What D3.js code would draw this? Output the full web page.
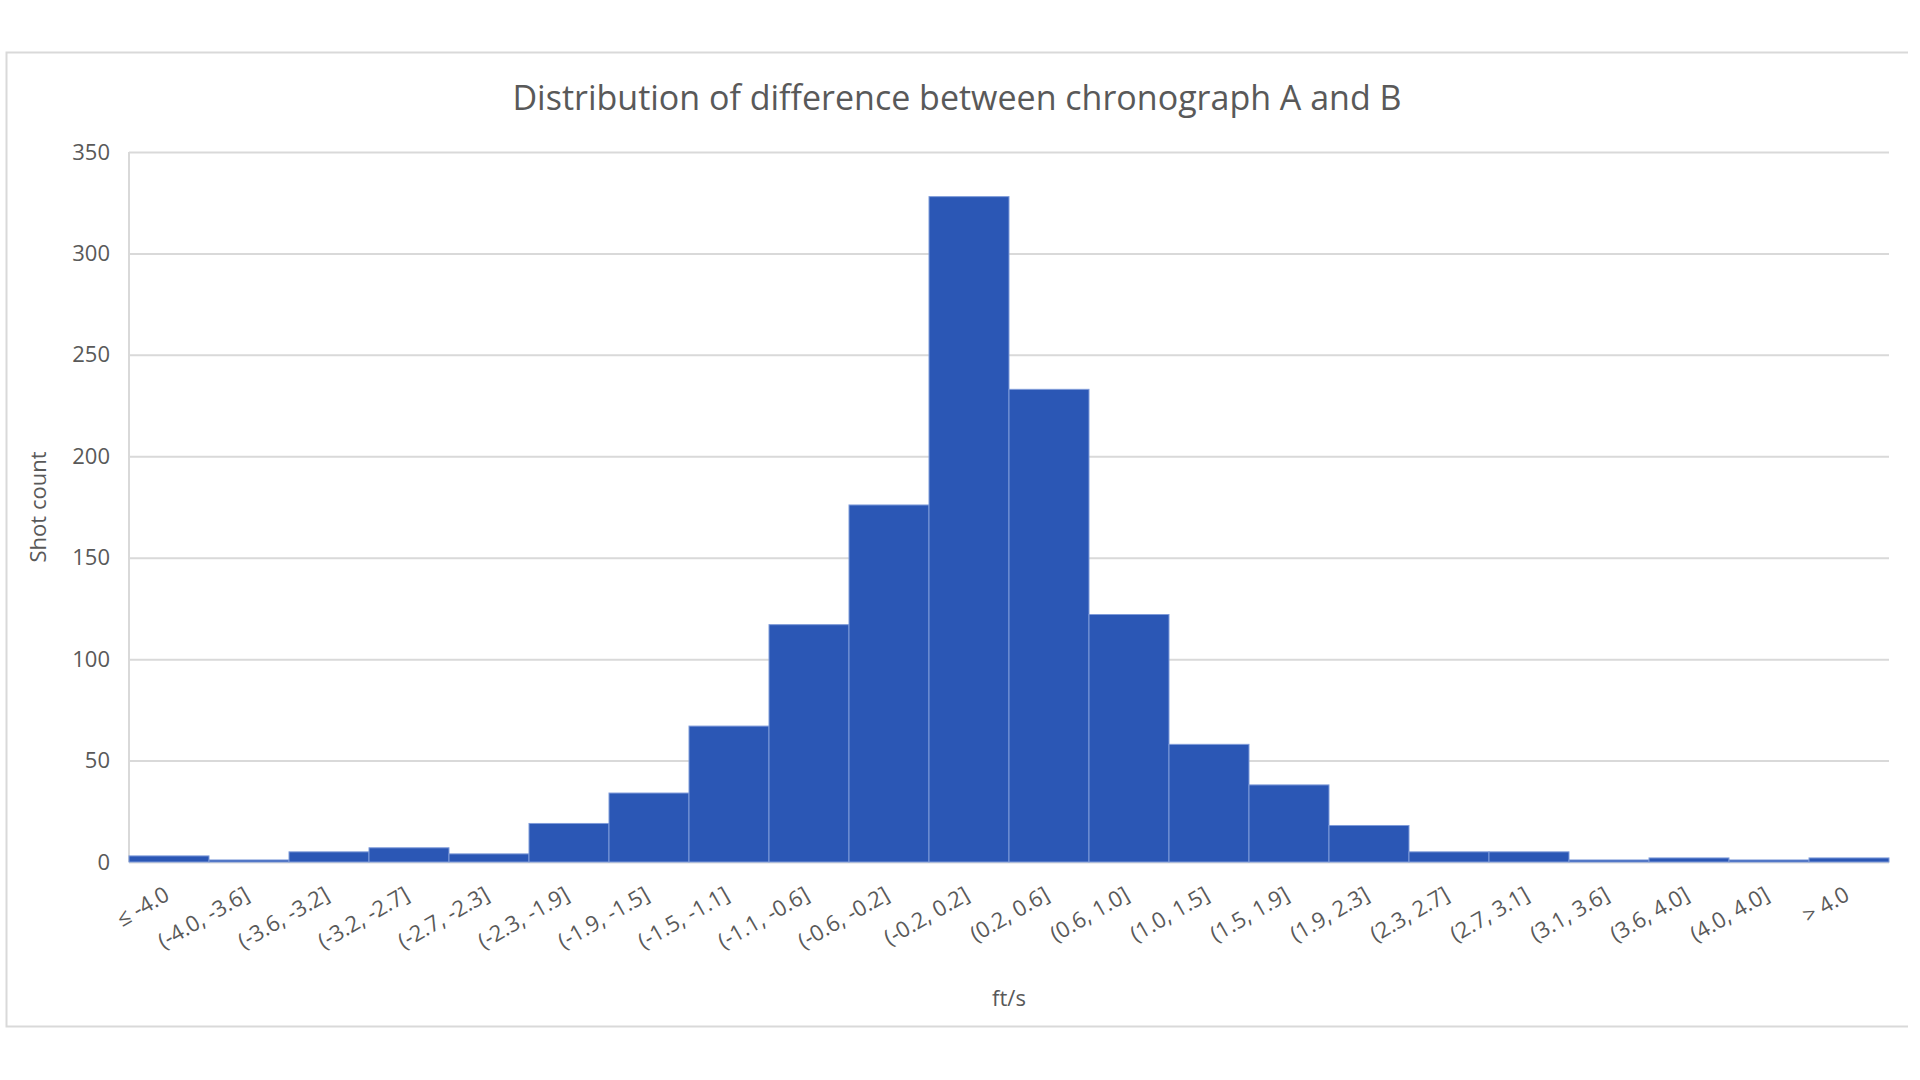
<!DOCTYPE html>
<html>
<head>
<meta charset="utf-8">
<script src="https://cdn.jsdelivr.net/npm/d3@7"></script>
<style>
  html, body { margin: 0; padding: 0; background: #ffffff; }
  svg { display: block; }
</style>
</head>
<body>
<svg id="chart" width="1920" height="1080"></svg>
<script>
// ---- data ----
const categories = ["≤ -4.0", "(-4.0, -3.6]", "(-3.6, -3.2]", "(-3.2, -2.7]", "(-2.7, -2.3]",
  "(-2.3, -1.9]", "(-1.9, -1.5]", "(-1.5, -1.1]", "(-1.1, -0.6]", "(-0.6, -0.2]",
  "(-0.2, 0.2]", "(0.2, 0.6]", "(0.6, 1.0]", "(1.0, 1.5]", "(1.5, 1.9]", "(1.9, 2.3]",
  "(2.3, 2.7]", "(2.7, 3.1]", "(3.1, 3.6]", "(3.6, 4.0]", "(4.0, 4.0]", "> 4.0"];
const shotCounts = [3, 1, 5, 7, 4, 19, 34, 67, 117, 176, 328, 233, 122, 58, 38, 18, 5, 5, 1, 2, 1, 2];
const yTicks = [0, 50, 100, 150, 200, 250, 300, 350];
const titleText = "Distribution of difference between chronograph A and B";
const xTitle = "ft/s";
const yTitle = "Shot count";

// ---- layout ----
const svg = d3.select("#chart");
const plot = { left: 129, right: 1889, top: 152, bottom: 862 };
const textColor = "#595959";
const font = "'Open Sans', sans-serif";

// outer frame
svg.append("path")
  .attr("d", "M1908,52.5 H6.5 V1026.5 H1908")
  .attr("fill", "none").attr("stroke", "#d9d9d9").attr("stroke-width", 2);

const x = d3.scaleBand().domain(categories).range([plot.left, plot.right]).padding(0);
const y = d3.scaleLinear().domain([0, 350]).range([plot.bottom, plot.top]);

// gridlines
svg.append("g")
  .attr("transform", `translate(${plot.left},0)`)
  .call(d3.axisLeft(y).tickValues(yTicks).tickSize(-(plot.right - plot.left)).tickFormat(""))
  .call(g => g.select(".domain").remove())
  .call(g => g.selectAll(".tick line").attr("stroke", "#d9d9d9").attr("stroke-width", 2));

// left vertical axis line
svg.append("line")
  .attr("x1", plot.left).attr("x2", plot.left)
  .attr("y1", y(350)).attr("y2", y(0))
  .attr("stroke", "#d9d9d9").attr("stroke-width", 2);

// y tick labels
svg.append("g")
  .attr("transform", `translate(${plot.left},0)`)
  .call(d3.axisLeft(y).tickValues(yTicks).tickSize(0).tickPadding(19))
  .call(g => g.select(".domain").remove())
  .call(g => g.selectAll("text")
    .attr("fill", textColor).attr("font-family", font).attr("font-size", 22));

// bars
svg.append("g").selectAll("rect")
  .data(shotCounts)
  .join("rect")
  .attr("x", (d, i) => x(categories[i]))
  .attr("width", x.bandwidth())
  .attr("y", d => y(d))
  .attr("height", d => y(0) - y(d))
  .attr("fill", "#2b57b5")
  .attr("stroke", "#7f9bd9")
  .attr("stroke-width", 1);

// x labels (rotated)
svg.append("g")
  .attr("transform", `translate(0,${plot.bottom})`)
  .call(d3.axisBottom(x).tickSize(0).tickPadding(0))
  .call(g => g.select(".domain").remove())
  .call(g => g.selectAll(".tick text")
    .attr("fill", textColor).attr("font-family", font).attr("font-size", 22)
    .attr("text-anchor", "end")
    .attr("dy", null).attr("y", null)
    .attr("transform", "translate(2,37) rotate(-30)"));

// title
svg.append("text")
  .attr("x", 957).attr("y", 110)
  .attr("text-anchor", "middle")
  .attr("fill", textColor).attr("font-family", font).attr("font-size", 34)
  .text(titleText);

// axis titles
svg.append("text")
  .attr("x", (plot.left + plot.right) / 2).attr("y", 1006)
  .attr("text-anchor", "middle")
  .attr("fill", textColor).attr("font-family", font).attr("font-size", 22)
  .text(xTitle);

svg.append("text")
  .attr("transform", `translate(46,${(plot.top + plot.bottom) / 2}) rotate(-90)`)
  .attr("text-anchor", "middle")
  .attr("fill", textColor).attr("font-family", font).attr("font-size", 22)
  .text(yTitle);
</script>
</body>
</html>
